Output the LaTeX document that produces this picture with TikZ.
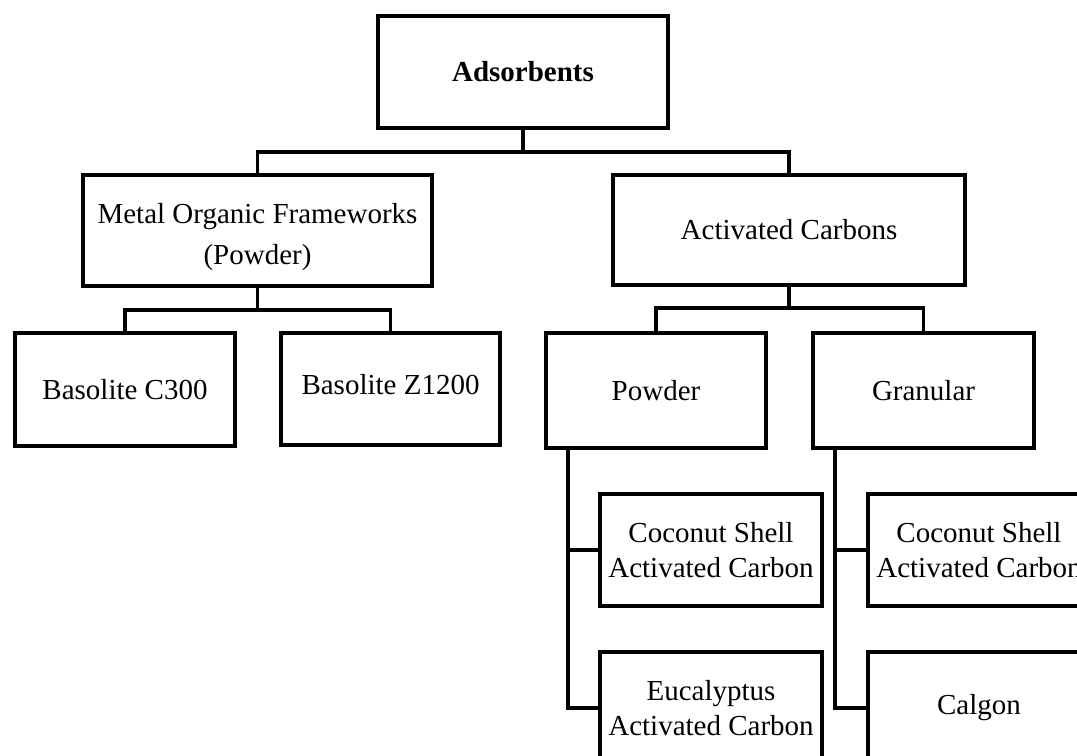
\documentclass[tikz,border=0pt]{standalone}
\usepackage{fontspec}
\setmainfont{Liberation Serif}
\begin{document}
\begin{tikzpicture}[x=0.02cm,y=-0.02cm,
  box/.style={draw, line width=1.8pt, inner sep=0pt, align=center, rectangle,
    font=\fontsize{16.5}{20}\selectfont},
  conn/.style={line width=1.8pt, line join=miter}]
\useasboundingbox (0,0) rectangle (1077,755);
\fill[white] (0,0) rectangle (1077,755);
\clip (0,0) rectangle (1077,755);
% nodes
\node[box, minimum width=5.8cm, minimum height=2.24cm, font=\fontsize{16.5}{20}\selectfont\bfseries] (ads) at (523,72) {Adsorbents};
\node[box, minimum width=6.98cm, minimum height=2.22cm, font=\fontsize{16.5}{23}\selectfont] (mof) at (257.5,230.5) {\rule{0pt}{19pt}Metal Organic Frameworks\\(Powder)};
\node[box, minimum width=7.04cm, minimum height=2.2cm] (ac) at (789,230) {Activated Carbons};
\node[box, minimum width=4.4cm, minimum height=2.26cm] (c300) at (125,389.5) {Basolite C300};
\node[box, minimum width=4.38cm, minimum height=2.24cm] (z1200) at (390.5,389) {\rule[-5pt]{0pt}{5pt}Basolite Z1200};
\node[box, minimum width=4.4cm, minimum height=2.3cm] (pow) at (656,390.5) {Powder};
\node[box, minimum width=4.42cm, minimum height=2.3cm] (gran) at (923.5,390.5) {Granular};
\node[box, minimum width=4.44cm, minimum height=2.24cm] (coc1) at (711,550) {Coconut Shell\\Activated Carbon};
\node[box, minimum width=4.44cm, minimum height=2.24cm] (euc) at (711,708) {Eucalyptus\\Activated Carbon};
\node[box, minimum width=4.44cm, minimum height=2.24cm] (coc2) at (979,550) {Coconut Shell\\Activated Carbon};
\node[box, minimum width=4.44cm, minimum height=2.24cm] (cal) at (979,708) {Calgon};
% connectors
\coordinate (b1) at (523,152);
\draw[conn] (ads.south) -- (b1);
\draw[conn] (mof.north) |- (b1) -| (ac.north);
\coordinate (b2) at (257.5,310);
\draw[conn] (mof.south) -- (b2);
\draw[conn] (c300.north) |- (b2) -| (z1200.north);
\coordinate (b3) at (789,308);
\draw[conn] (ac.south) -- (b3);
\draw[conn] (pow.north) |- (b3) -| (gran.north);
\coordinate (t1) at (568,448);
\draw[conn] (t1) |- (euc.west);
\draw[conn] (coc1.west) -- (coc1.west -| t1);
\coordinate (t2) at (835,448);
\draw[conn] (t2) |- (cal.west);
\draw[conn] (coc2.west) -- (coc2.west -| t2);
\end{tikzpicture}
\end{document}
